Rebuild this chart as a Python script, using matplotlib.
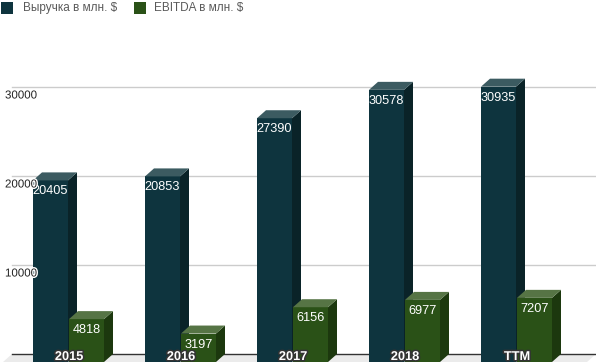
import matplotlib
matplotlib.use("Agg")
import matplotlib.pyplot as plt
from matplotlib.patches import Polygon, Rectangle
import matplotlib.patheffects as pe

plt.rcParams['font.family'] = ['Liberation Sans', 'DejaVu Sans']

categories = ["2015", "2016", "2017", "2018", "TTM"]
revenue = [20405, 20853, 27390, 30578, 30935]
ebitda = [4818, 3197, 6156, 6977, 7207]
series_names = ["Выручка в млн. $", "EBITDA в млн. $"]
yticks = [10000, 20000, 30000]

W, H = 596, 364
fig = plt.figure(figsize=(W / 100, H / 100), dpi=100)
ax = fig.add_axes([0, 0, 1, 1])
ax.set_axis_off()

# pixel-to-data scales
sx = 1 / 112.0          # category units per pixel
sy = 10000 / 89.0       # value units per pixel
c0 = 69                 # pixel x of first category center
ax.set_xlim(-c0 * sx, (W - c0) * sx)
ax.set_ylim(-10 * sy, (H - 10) * sy)

dx, dy = 9 * sx, 8 * sy
x_left = -57 * sx       # pixel 12
x_right = (W - c0) * sx

# floor
floor = Polygon([(x_left, 0), (x_right, 0), (x_right - dx, -dy), (x_left - dx, -dy)],
                closed=True, facecolor="#ebebeb", edgecolor="none", zorder=1)
ax.add_patch(floor)

# gridlines
for t in yticks:
    ax.plot([x_left, x_right], [t, t], color="#cccccc", lw=1, zorder=2)
    ax.text(-64 * sx, t - 8.5 * sy, f"{t}", ha="left", va="center", fontsize=8.3,
            color="#222222", zorder=10,
            path_effects=[pe.withStroke(linewidth=2, foreground="white")])
ax.plot([x_left, x_right], [0, 0], color="#333333", lw=1, zorder=2)

colors = [
    dict(front="#0e343e", side="#0a2328", top="#3c5b61"),
    dict(front="#2a5117", side="#1c380e", top="#567445"),
]


def box(xl, xr, v, col, z):
    front = Polygon([(xl, -dy), (xr, -dy), (xr, v - dy), (xl, v - dy)], closed=True,
                    facecolor=col["front"], edgecolor="none", zorder=z)
    side = Polygon([(xr, -dy), (xr + dx, 0), (xr + dx, v), (xr, v - dy)], closed=True,
                   facecolor=col["side"], edgecolor="none", zorder=z)
    top = Polygon([(xl, v - dy), (xl + dx, v), (xr + dx, v), (xr, v - dy)], closed=True,
                  facecolor=col["top"], edgecolor="none", zorder=z)
    for p in (front, side, top):
        ax.add_patch(p)
    ax.text((xl + xr) / 2, v - dy - 11 * sy, f"{v}", ha="center", va="center",
            fontsize=9.2, color="white", zorder=z + 0.5)


for i, cat in enumerate(categories):
    box(i - 36 * sx, i - 1 * sx, revenue[i], colors[0], 3 + i * 0.1)
    box(i, i + 35 * sx, ebitda[i], colors[1], 3.05 + i * 0.1)
    ax.text(i, -3 * sy, cat, ha="center", va="center", fontsize=9.2, color="white",
            fontweight="bold", zorder=11,
            path_effects=[pe.withStroke(linewidth=2.2, foreground="#333333")])

# legend (figure pixel coords)
leg_x = [1, 134]
txt_x = [23, 154]
for k in range(2):
    fig.patches.append(Rectangle((leg_x[k] / W, 1 - 14 / H), 12 / W, 12 / H,
                                 transform=fig.transFigure,
                                 facecolor=colors[k]["front"], edgecolor="none"))
    fig.text(txt_x[k] / W, 1 - 8 / H, series_names[k], ha="left", va="center",
             fontsize=8.5, color="#5a5a5a")

fig.savefig("out.png", dpi=100)
